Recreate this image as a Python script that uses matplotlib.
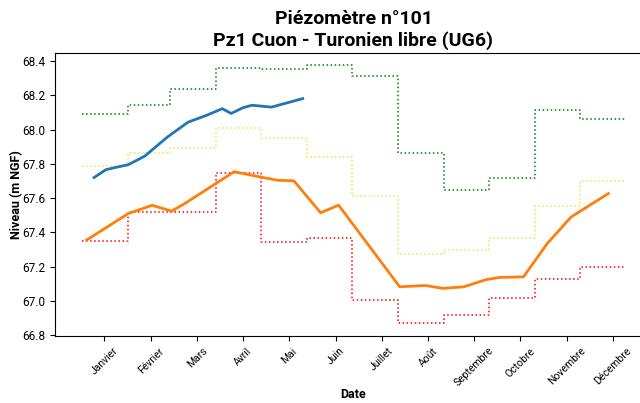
import numpy as np
import matplotlib
matplotlib.use('Agg')
import matplotlib.pyplot as plt

plt.rcParams['font.family'] = ['Roboto', 'DejaVu Sans']

# Mois (labels des ticks) et bornes des mois en jours de l'annee
mois = ['Janvier', 'Février', 'Mars', 'Avril', 'Mai', 'Juin', 'Juillet',
        'Août', 'Septembre', 'Octobre', 'Novembre', 'Décembre']
bornes_mois = [0, 31, 59, 90, 120, 151, 181, 212, 243, 273, 304, 334, 364]
ticks_jours = [15, 46, 77, 108, 139, 170, 201, 232, 263, 294, 325, 356]

# Statistiques mensuelles (m NGF)
niv_max = [68.089, 68.141, 68.235, 68.361, 68.352, 68.376, 68.314, 67.865,
           67.650, 67.715, 68.114, 68.060]
niv_med = [67.787, 67.865, 67.890, 68.011, 67.952, 67.840, 67.613, 67.271,
           67.296, 67.368, 67.551, 67.701]
niv_min = [67.351, 67.516, 67.520, 67.749, 67.342, 67.368, 67.006, 66.868,
           66.917, 67.018, 67.127, 67.199]

# Annee en cours
jours_cour = [8, 16, 23, 31, 42, 57, 71, 84, 94, 100, 108, 114, 127, 148]
niv_cour = [67.720, 67.766, 67.780, 67.795, 67.845, 67.955, 68.043, 68.085,
            68.122, 68.094, 68.128, 68.142, 68.131, 68.181]

# Annee precedente
jours_prec = [3, 31, 47, 60, 69, 102, 119, 131, 142, 160, 172, 213, 230, 242,
              256, 271, 280, 296, 312, 328, 353]
niv_prec = [67.355, 67.510, 67.558, 67.524, 67.569, 67.754, 67.724, 67.704,
            67.701, 67.514, 67.559, 67.082, 67.090, 67.073, 67.082, 67.124,
            67.137, 67.140, 67.335, 67.490, 67.627]

fig = plt.figure(figsize=(6.4, 4.03), dpi=100)
ax = fig.add_axes([0.0859, 0.1663, 0.9328, 0.7022])

ax.step(bornes_mois, niv_max + [niv_max[-1]], where='post', color='green', ls=':', lw=1.1)
ax.step(bornes_mois, niv_med + [niv_med[-1]], where='post', color='#f0e050', ls=':', lw=1.1)
ax.step(bornes_mois, niv_min + [niv_min[-1]], where='post', color='red', ls=':', lw=1.1)

ax.plot(jours_cour, niv_cour, color='tab:blue', lw=2)
ax.plot(jours_prec, niv_prec, color='tab:orange', lw=2)

ax.set_xlim(-18.2, 382.2)
ax.set_ylim(66.795, 68.447)
ax.set_yticks([66.8, 67.0, 67.2, 67.4, 67.6, 67.8, 68.0, 68.2, 68.4])
ax.set_xticks(ticks_jours)
ax.set_xticklabels(mois, rotation=45, fontsize=7.5)
ax.tick_params(axis='y', labelsize=8.5)

ax.set_title('Piézomètre n°101\nPz1 Cuon - Turonien libre (UG6)',
             fontsize=14, fontweight='bold', pad=5)
ax.set_xlabel('Date', fontsize=9, fontweight='bold', labelpad=0)
ax.set_ylabel('Niveau (m NGF)', fontsize=9, fontweight='bold', labelpad=-1)

fig.savefig('out.png', dpi=100)
